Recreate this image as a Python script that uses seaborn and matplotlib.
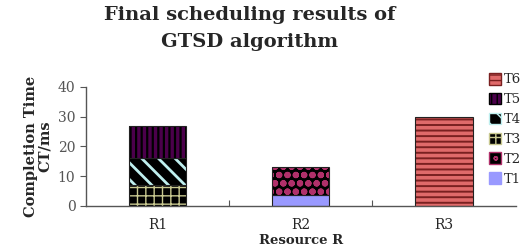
import matplotlib
matplotlib.use("Agg")
import matplotlib.pyplot as plt
import seaborn as sns
from matplotlib.patches import Patch

# ----------------------------------------------------------------------
# Data
# ----------------------------------------------------------------------
resources = ["R1", "R2", "R3"]
tasks = ["T1", "T2", "T3", "T4", "T5", "T6"]
task_resource = ["R2", "R2", "R1", "R1", "R1", "R3"]
task_time = [3.7, 9.3, 7.0, 9.0, 11.0, 30.0]

# face colour, hatch colour, hatch pattern, hatch line width
STYLE = {
    "T1": ("#9999FF", "#9999FF", "", 1.0),
    "T2": ("#000000", "#B0306A", "oo", 2.2),
    "T3": ("#000000", "#C8C890", "++", 1.0),
    "T4": ("#000000", "#BFEFEF", "\\\\", 2.0),
    "T5": ("#4B004B", "#000000", "|||", 1.6),
    "T6": ("#E06A6A", "#7A2020", "---", 1.4),
}

sns.set_style("ticks")
plt.rcParams.update({
    "font.family": ["DejaVu Serif"],
    "axes.linewidth": 1.0,
    "axes.edgecolor": "#555555",
})

fig = plt.figure(figsize=(5.2, 2.47), dpi=100)
ax = fig.add_axes([0.165, 0.166, 0.827, 0.482])

bottoms = {r: 0.0 for r in resources}
handles = {}
for t, r, v in zip(tasks, task_resource, task_time):
    face, hcol, hatch, hlw = STYLE[t]
    x = resources.index(r)
    with plt.rc_context({"hatch.linewidth": hlw}):
        ax.bar(x, v, bottom=bottoms[r], width=0.4, color=face,
               edgecolor=hcol, hatch=hatch, linewidth=0)
        handles[t] = Patch(facecolor=face, edgecolor=hcol, hatch=hatch)
    ax.bar(x, v, bottom=bottoms[r], width=0.4, fill=False,
           edgecolor="#222222", linewidth=0.8)
    bottoms[r] += v

ax.set_xlim(-0.5, 2.5)
ax.set_ylim(0, 40)
ax.set_yticks([0, 10, 20, 30, 40])
ax.set_xticks([0.5, 1.5])
ax.set_xticklabels([])
ax.set_xticks(range(3), minor=True)
ax.set_xticklabels(resources, minor=True)
ax.tick_params(axis="x", which="major", direction="in", length=4)
ax.tick_params(axis="x", which="minor", length=0, pad=9)
ax.tick_params(axis="both", labelsize=10, labelcolor="#555555", color="#555555")
ax.tick_params(axis="y", length=4)
sns.despine(ax=ax)

ax.set_xlabel("Resource R", fontsize=9.5, fontweight="bold", labelpad=1)
ax.set_ylabel("Completion Time\nCT/ms", fontsize=10.5, fontweight="bold",
              labelpad=4, linespacing=1.0)

fig.suptitle("Final scheduling results of\nGTSD algorithm", x=0.48, y=0.975,
             fontsize=14, fontweight="bold", linespacing=1.6)

leg_order = tasks[::-1]
fig.legend([handles[t] for t in leg_order], leg_order, loc="upper left",
           bbox_to_anchor=(0.93, 0.725), frameon=False, fontsize=9.5,
           handlelength=0.9, handleheight=0.95, handletextpad=0.2,
           labelspacing=0.5, borderaxespad=0)

fig.savefig("out.png", dpi=100, facecolor="white")
